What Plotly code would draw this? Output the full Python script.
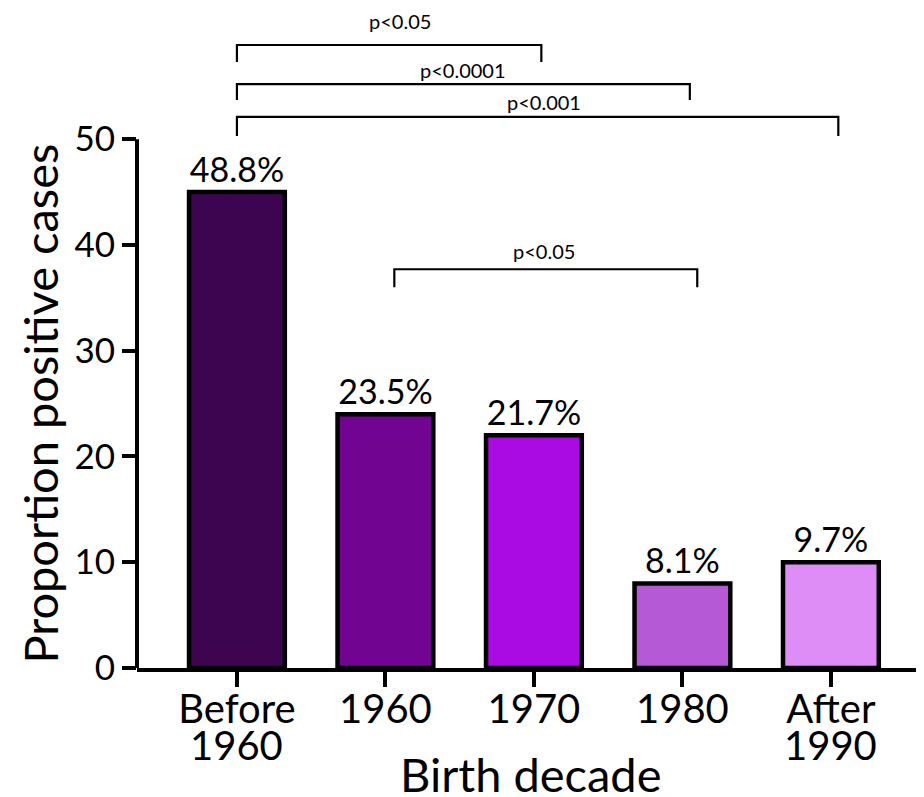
import plotly.graph_objects as go

categories = ["Before<br>1960", "1960", "1970", "1980", "After<br>1990"]
values = [45, 24, 22, 8, 10]
labels = ["48.8%", "23.5%", "21.7%", "8.1%", "9.7%"]
colors = ["#3D044F", "#710592", "#A90BE2", "#B659D7", "#DD8DF5"]

# comparisons: (left index, right index, p text)
comparisons = [
    (0, 2, "p<0.05"),
    (0, 3, "p<0.0001"),
    (0, 4, "p<0.001"),
    (1, 3, "p<0.05"),
]
# bracket layout: (y of bar line, tick drop, left offset, right offset, text x, text y)
bracket_style = [
    (58.9, 1.6, 0.0, 0.05, 1.10, 61.2),
    (55.2, 1.5, 0.0, 0.05, 1.52, 56.5),
    (52.1, 1.8, 0.0, 0.05, 2.07, 53.5),
    (37.7, 1.7, 0.06, 0.10, 2.07, 39.4),
]

FONT = "Lato"

first_lines = [c.split("<br>")[0] for c in categories]
second_lines = [c.split("<br>")[1] if "<br>" in c else "" for c in categories]

fig = go.Figure()
fig.add_trace(go.Bar(
    x=list(range(len(categories))),
    y=values,
    width=0.645,
    marker=dict(color=colors, line=dict(color="black", width=4.5)),
    text=labels,
    textposition="outside",
    textfont=dict(size=34, color="black", family=FONT),
    cliponaxis=False,
))

shapes = []
annotations = []
# y axis line (only up to 50)
shapes.append(dict(type="line", xref="paper", yref="y", x0=0, x1=0, y0=0, y1=50,
                   line=dict(color="black", width=4)))

for (i0, i1, ptxt), (yl, drop, loff, roff, tx, ty) in zip(comparisons, bracket_style):
    xl = i0 + loff
    xr = i1 + roff
    shapes.append(dict(type="path", xref="x", yref="y",
                       path=f"M {xl},{yl-drop} L {xl},{yl} L {xr},{yl} L {xr},{yl-drop}",
                       line=dict(color="black", width=2.2)))
    annotations.append(dict(x=tx, y=ty, xref="x", yref="y", text=ptxt, showarrow=False,
                            font=dict(size=20, color="black", family=FONT)))

# second lines of the category labels
for i, s in enumerate(second_lines):
    if s:
        annotations.append(dict(x=i, y=-0.1167, xref="x", yref="paper", text=s, showarrow=False,
                                xanchor="center", yanchor="middle",
                                font=dict(size=40, color="black", family=FONT)))

annotations.append(dict(x=-0.1233, y=25, xref="paper", yref="y", text="Proportion positive cases",
                        textangle=-90, showarrow=False, xanchor="center", yanchor="middle",
                        font=dict(size=47, color="black", family=FONT)))
annotations.append(dict(x=0.4994, y=-0.160, xref="paper", yref="paper", text="Birth decade",
                        showarrow=False, xanchor="center", yanchor="middle",
                        font=dict(size=47, color="black", family=FONT)))

fig.update_layout(
    width=916, height=789,
    margin=dict(l=129, r=0, t=0, b=129),
    plot_bgcolor="white", paper_bgcolor="white",
    showlegend=False,
    shapes=shapes,
    annotations=annotations,
    xaxis=dict(
        range=[-0.673, 4.627],
        tickmode="array", tickvals=list(range(len(categories))), ticktext=first_lines,
        showline=True, linecolor="black", linewidth=4,
        ticks="outside", ticklen=15, tickwidth=4, tickcolor="black",
        ticklabelstandoff=-12,
        tickfont=dict(size=40, color="black", family=FONT),
        showgrid=False, zeroline=False,
    ),
    yaxis=dict(
        range=[0, 62.4],
        tickmode="array", tickvals=[0, 10, 20, 30, 40, 50],
        showline=False,
        ticks="outside", ticklen=14, tickwidth=4, tickcolor="black",
        tickfont=dict(size=35, color="black", family=FONT),
        showgrid=False, zeroline=False,
    ),
)

fig.write_html("out.html")
